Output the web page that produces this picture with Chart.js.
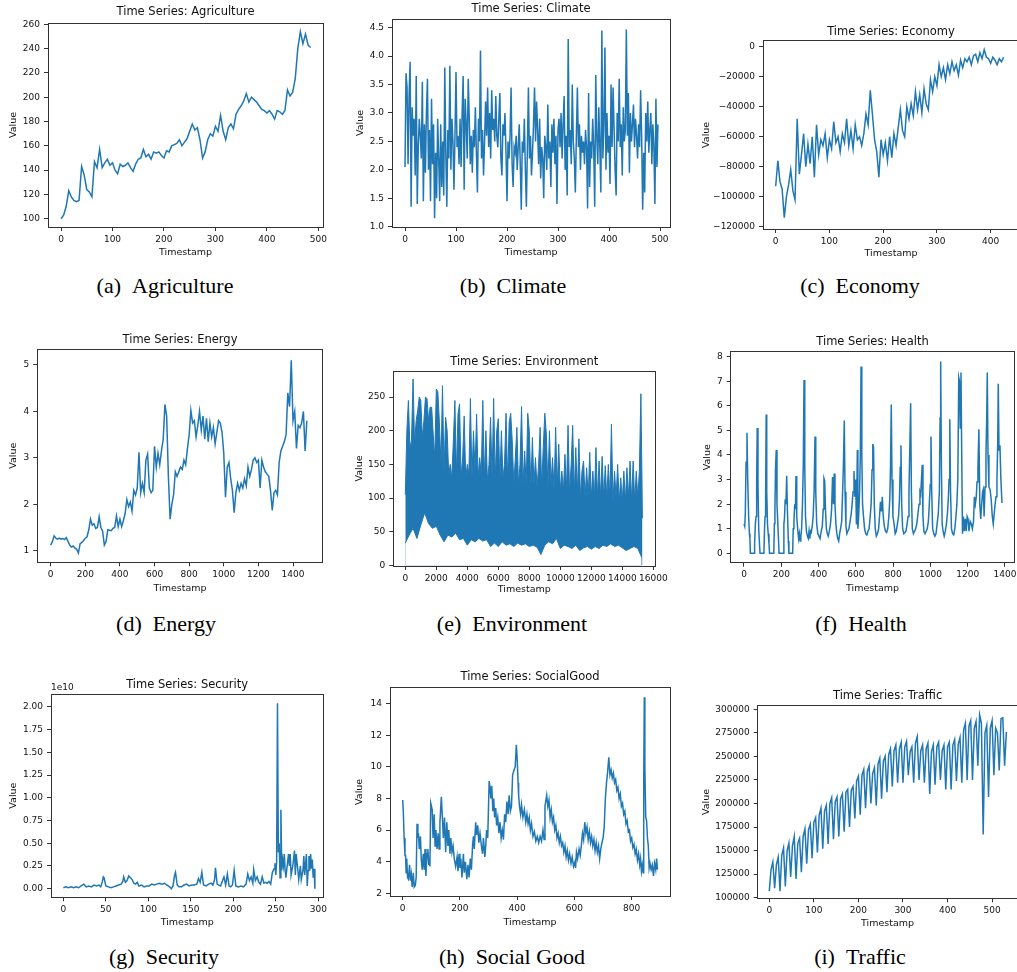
<!DOCTYPE html>
<html><head><meta charset="utf-8">
<script src="https://cdn.jsdelivr.net/npm/chart.js@4.4.1/dist/chart.umd.min.js"></script>
<style>
html,body{margin:0;padding:0;background:#fff;}
#page{position:relative;width:1017px;height:972px;overflow:hidden;background:#fff;}
#page canvas{position:absolute;}
.cap{position:absolute;width:300px;font-family:'Liberation Serif','Times New Roman',serif;font-size:22px;line-height:22px;text-align:center;color:#000;white-space:pre;}
.off{position:absolute;font-family:'DejaVu Sans',sans-serif;font-size:9px;line-height:11px;color:#111;}
</style></head><body><div id="page"></div>
<script>
// ---------------- DATA ----------------
const agricultureStep = 5;
const agriculture = [100,103,110,123,118,115,114,115,143,136,124,122,118,147,142,157,142,146,149,144,146,140,137,145,143,144,146,142,139,145,149,150,157,151,153,149,155,154,155,152,150,156,155,160,161,162,165,160,163,166,172,178,173,175,165,150,155,165,170,168,176,172,185,172,165,175,178,174,186,190,193,197,203,196,200,198,196,193,190,189,187,189,186,182,189,188,186,189,206,201,204,215,240,254,244,252,243,241];

const climateStep = 2;
const climate = [
2.05,3.7,3.45,2.1,3.3,3.9,1.35,3.1,2.6,2.9,
1.9,3.65,1.4,2.4,2.9,2.6,2.2,3.55,1.45,2.8,
1.95,3.0,3.6,2.0,2.7,1.45,3.25,2.1,2.8,1.15,
2.3,1.5,2.9,2.2,1.45,2.8,1.7,2.5,1.55,3.8,
2.3,1.35,2.7,2.2,3.83,2.0,2.9,2.5,1.65,2.6,
3.72,2.4,2.6,2.1,2.9,2.05,3.0,3.65,1.65,3.25,
2.8,2.2,3.6,2.9,2.1,2.6,1.95,2.7,2.4,3.1,
2.3,1.6,2.9,2.5,4.1,2.2,2.7,1.9,2.5,3.2,
2.6,3.45,2.4,3.0,2.2,3.4,2.7,2.9,2.5,3.3,
2.6,2.4,2.9,3.35,2.2,1.9,2.8,2.6,3.0,2.3,
1.45,2.5,2.2,2.6,3.45,2.1,1.7,2.4,2.3,2.6,
2.0,2.4,2.8,2.1,1.3,2.5,2.3,2.9,2.0,1.35,
2.4,3.45,2.2,2.6,1.9,2.3,2.8,3.45,2.5,3.2,
2.7,2.1,2.9,1.85,2.4,2.2,1.5,2.6,2.4,2.0,
3.15,2.2,2.5,1.7,2.8,2.3,2.9,2.1,2.6,1.4,
2.7,2.9,2.4,3.0,2.2,2.8,3.3,2.0,2.6,1.55,
4.3,2.4,2.7,2.1,3.5,2.5,2.2,1.6,2.6,3.45,
2.4,2.8,2.0,2.6,2.3,2.5,2.1,2.7,2.4,1.32,
3.35,1.7,2.5,2.2,2.9,2.4,1.35,3.67,2.6,2.1,
3.1,2.4,1.6,4.45,2.2,2.8,4.15,2.0,3.0,2.3,
2.6,1.75,3.5,2.4,3.45,2.7,2.0,1.55,3.0,2.5,
3.6,2.4,2.8,1.9,3.1,2.5,2.7,4.47,2.6,3.35,
1.95,3.0,2.5,2.8,3.15,2.4,2.9,2.6,2.2,2.8,
2.4,3.4,2.6,1.3,2.3,1.6,3.0,2.5,3.2,2.3,
2.7,3.0,2.1,2.8,2.4,1.4,3.25,2.05,2.8];

const economyStep = 4;
const economy = [-93000,-76000,-90000,-95000,-114000,-100000,-92000,-82000,-96000,-102000,-48000,-85000,-72000,-58000,-80000,-65000,-78000,-60000,-87000,-52000,-72000,-62000,-66000,-58000,-74000,-62000,-68000,-50000,-64000,-60000,-70000,-58000,-64000,-48000,-66000,-56000,-68000,-52000,-62000,-60000,-66000,-58000,-45000,-52000,-29000,-45000,-62000,-70000,-87000,-62000,-72000,-64000,-76000,-60000,-74000,-58000,-66000,-54000,-42000,-56000,-60000,-40000,-48000,-38000,-46000,-30000,-42000,-32000,-44000,-28000,-38000,-42000,-22000,-30000,-20000,-26000,-12000,-20000,-14000,-22000,-12000,-18000,-10000,-16000,-12000,-19000,-9000,-14000,-8000,-10000,-7000,-12000,-6000,-5000,-10000,-4000,-8000,-2000,-7000,-8000,-11000,-7000,-9000,-12000,-8000,-10000,-7000];

const energyStep = 10;
const energy = [1.12,1.2,1.32,1.27,1.25,1.27,1.25,1.26,1.24,1.28,1.2,1.12,1.08,1.1,1.06,1.03,0.95,1.15,1.18,1.22,1.27,1.3,1.45,1.68,1.55,1.58,1.48,1.5,1.73,1.5,1.42,1.12,1.2,1.45,1.44,1.43,1.48,1.5,1.75,1.52,1.68,1.52,1.65,1.8,2.1,1.95,2.05,1.85,2.3,2.2,2.35,3.12,2.25,2.45,2.25,2.95,3.08,2.35,2.25,2.3,3.25,2.8,3.1,2.85,3.15,3.4,4.15,3.9,2.6,1.68,2.0,2.2,2.7,2.6,2.7,2.8,2.75,2.95,2.85,3.2,3.5,4.02,3.75,3.8,3.45,3.7,4.0,3.6,3.9,3.4,3.85,3.35,3.75,3.45,3.65,3.3,3.55,3.8,3.75,3.55,3.1,2.15,2.8,2.9,2.55,2.3,1.82,2.25,2.45,2.3,2.45,2.35,2.55,2.4,2.8,2.6,2.75,2.95,3.0,2.9,2.95,2.35,2.95,2.8,2.7,2.65,2.6,2.3,1.87,2.25,2.3,2.2,2.9,3.15,3.25,3.35,3.5,4.4,4.1,5.1,3.8,4.0,3.2,3.7,3.65,3.75,4.0,3.15,3.8];

// Environment: dense series shown by its upper and lower envelopes
const environmentTopStep = 100;
const environmentTop = [105,200,245,175,185,277,180,215,230,250,245,190,215,250,248,215,235,235,195,160,262,258,212,150,267,140,220,200,135,150,130,185,245,135,225,240,130,160,222,130,150,135,248,130,200,140,225,130,160,135,245,130,200,125,150,220,130,248,125,200,218,125,200,130,150,226,125,212,226,185,120,160,205,120,150,236,120,170,120,226,200,115,190,120,160,115,150,205,115,175,226,195,115,200,120,160,110,205,115,180,110,140,110,165,110,208,105,150,208,105,175,105,188,100,140,155,100,145,100,168,100,140,100,175,100,155,100,162,100,148,100,150,100,210,95,140,100,150,95,130,95,140,95,145,100,155,95,155,95,140,100,140,255,70];
const environmentBottomStep = 250;
const environmentBottom = [33,45,55,40,60,78,62,55,58,45,35,45,42,48,38,40,30,38,35,40,36,38,28,33,28,35,30,32,28,33,30,32,28,30,27,16,30,35,32,40,25,30,28,25,30,22,26,28,24,28,25,30,28,32,28,30,26,22,25,28,25,12];

const health = [[0,1.2],[4,1.1],[7,1.6],[11,3.7],[16,4.9],[20,3.0],[25,1.5],[29,0.8],[32,0.6],[34,0],[54,0],[57,0.4],[61,1.2],[65,1.5],[68,3.0],[71,5.1],[75,2.8],[79,1.0],[83,0.4],[86,0],[107,0],[110,1.0],[113,1.5],[116,2.2],[119,5.65],[122,2.5],[126,1.2],[130,0.8],[134,0.4],[137,0],[160,0],[163,1.2],[166,1.8],[169,3.4],[173,4.2],[177,2.0],[181,1.3],[185,0.6],[188,0],[211,0],[214,1.2],[217,1.4],[221,2.2],[225,2.0],[229,3.15],[233,1.7],[238,0.5],[241,0],[261,0],[264,1.0],[268,1.3],[272,2.0],[276,1.8],[279,3.15],[283,1.5],[288,1.0],[293,0.6],[297,0.8],[301,0.5],[305,0.7],[309,1.0],[313,1.8],[318,3.5],[322,7.05],[326,3.5],[330,1.5],[335,0.9],[340,0.7],[345,0.6],[349,0.9],[353,0.6],[357,0.9],[361,0.85],[366,1.1],[371,1.5],[376,2.5],[381,4.75],[385,2.5],[390,1.2],[396,0.8],[402,0.7],[408,0.6],[414,0.9],[420,1.1],[425,1.8],[429,3.05],[433,2.95],[437,1.8],[442,1.0],[447,0.8],[452,0.7],[458,0.9],[464,1.2],[470,1.8],[475,3.1],[480,2.0],[484,3.25],[488,2.0],[493,1.2],[498,0.8],[503,0.6],[508,0.5],[513,0.8],[518,1.0],[524,1.3],[529,2.5],[533,3.5],[538,5.4],[542,2.5],[547,1.1],[552,0.8],[557,0.9],[563,1.0],[569,1.3],[575,1.6],[580,2.0],[585,2.5],[590,3.35],[594,2.3],[599,3.0],[603,1.2],[606,2.8],[608,4.2],[611,1.0],[615,1.5],[620,2.5],[624,4.0],[628,7.6],[632,4.0],[636,2.0],[641,1.5],[647,1.0],[653,0.8],[659,0.75],[665,0.9],[671,1.0],[677,1.5],[682,2.0],[687,3.4],[691,4.45],[695,4.3],[699,2.0],[704,1.0],[710,0.7],[716,0.8],[722,1.0],[727,1.5],[732,2.1],[737,1.7],[742,2.3],[747,1.5],[753,1.1],[759,0.9],[765,0.85],[771,1.0],[777,1.5],[782,2.2],[786,3.5],[790,6.05],[794,3.0],[799,1.5],[805,1.2],[811,0.8],[817,0.9],[823,1.2],[829,1.5],[834,2.2],[838,3.5],[842,4.4],[846,2.0],[851,1.0],[857,0.8],[863,0.85],[869,0.9],[875,1.2],[880,1.5],[885,2.5],[890,4.5],[894,6.1],[898,2.5],[903,1.0],[909,0.8],[915,0.9],[921,1.0],[927,1.2],[933,1.6],[939,2.0],[944,2.5],[948,2.4],[952,3.0],[956,3.6],[960,1.5],[965,0.9],[971,0.8],[977,0.9],[983,1.0],[989,1.3],[994,2.0],[999,2.8],[1003,4.75],[1007,2.5],[1012,1.0],[1018,0.8],[1024,0.7],[1030,0.8],[1036,1.2],[1042,1.6],[1048,2.5],[1052,5.5],[1055,7.8],[1059,3.5],[1063,1.2],[1068,0.9],[1074,0.7],[1080,0.9],[1086,1.2],[1091,1.6],[1096,2.2],[1100,3.0],[1104,5.45],[1108,2.5],[1113,1.0],[1119,0.8],[1125,0.75],[1131,1.0],[1137,1.5],[1142,2.0],[1147,3.0],[1152,7.15],[1156,7.0],[1160,5.1],[1164,7.35],[1168,4.0],[1172,0.8],[1177,1.5],[1182,0.9],[1187,1.4],[1192,0.9],[1197,1.5],[1202,1.4],[1207,0.9],[1213,1.3],[1219,1.2],[1225,1.0],[1231,1.3],[1236,2.3],[1241,2.0],[1246,2.3],[1250,2.9],[1255,3.5],[1260,5.05],[1265,2.0],[1270,1.4],[1275,2.0],[1280,2.5],[1284,2.6],[1288,1.5],[1293,2.7],[1298,4.0],[1302,5.5],[1305,7.35],[1309,4.0],[1314,2.7],[1320,2.6],[1326,2.2],[1332,1.5],[1337,1.2],[1342,1.6],[1347,2.0],[1352,2.3],[1357,3.0],[1361,4.5],[1364,6.9],[1368,4.2],[1373,4.4],[1378,3.0],[1384,2.05]];

// Security values in units of 1e10
const securityE10 = [[0,0.01],[3,0.02],[6,0.01],[9,0.02],[12,0.01],[15,0.02],[18,0.01],[21,0.03],[24,0.05],[27,0.02],[30,0.03],[33,0.02],[36,0.04],[39,0.03],[42,0.04],[44,0.02],[46,0.08],[47,0.13],[48,0.12],[50,0.03],[53,0.02],[56,0.01],[59,0.02],[62,0.03],[65,0.04],[68,0.05],[70,0.08],[71,0.13],[73,0.07],[75,0.09],[77,0.14],[79,0.12],[81,0.1],[83,0.06],[85,0.05],[87,0.07],[89,0.03],[92,0.04],[95,0.02],[98,0.03],[101,0.03],[104,0.05],[107,0.04],[110,0.05],[113,0.06],[116,0.05],[119,0.06],[122,0.04],[125,0.02],[127,0.0],[129,0.03],[131,0.15],[132,0.18],[134,0.04],[136,0.02],[139,0.02],[142,0.04],[145,0.05],[148,0.03],[151,0.04],[154,0.04],[157,0.05],[159,0.11],[161,0.07],[163,0.18],[165,0.04],[168,0.03],[171,0.05],[174,0.06],[176,0.04],[178,0.1],[179,0.23],[181,0.05],[183,0.04],[185,0.03],[187,0.08],[189,0.13],[191,0.04],[193,0.16],[195,0.03],[197,0.02],[199,0.04],[201,0.2],[203,0.03],[206,0.02],[209,0.03],[212,0.02],[215,0.05],[217,0.16],[219,0.09],[221,0.13],[223,0.06],[224,0.21],[226,0.09],[228,0.13],[230,0.07],[232,0.05],[234,0.13],[236,0.06],[238,0.07],[240,0.06],[242,0.08],[244,0.05],[246,0.18],[248,0.22],[249,0.28],[250,0.15],[251,0.3],[252,2.04],[253,0.4],[254,0.5],[255,0.12],[256,0.87],[257,0.2],[258,0.32],[259,0.25],[260,0.38],[261,0.2],[262,0.12],[263,0.22],[265,0.38],[266,0.25],[267,0.38],[268,0.15],[270,0.25],[272,0.42],[273,0.15],[274,0.38],[276,0.2],[277,0.1],[279,0.25],[280,0.1],[282,0.2],[283,0.36],[284,0.15],[286,0.38],[287,0.03],[288,0.2],[289,0.36],[290,0.2],[291,0.38],[292,0.22],[293,0.32],[294,0.12],[295,0.22],[296,0.0]];

const socialGood = [[0,7.9],[2,7.2],[5,5.5],[8,4.4],[10,4.4],[12,3.3],[14,4.2],[17,3.0],[20,2.9],[24,3.8],[27,2.8],[30,3.2],[33,2.4],[37,3.3],[40,2.4],[44,2.5],[47,3.0],[50,6.4],[53,5.5],[55,5.8],[58,4.8],[62,5.6],[65,4.1],[68,3.5],[72,4.5],[75,3.5],[78,4.8],[81,3.1],[85,4.5],[88,4.8],[91,3.8],[93,4.2],[95,3.7],[98,7.7],[103,7.3],[106,5.5],[110,7.0],[113,5.0],[116,6.0],[120,4.8],[124,5.8],[127,4.8],[130,6.5],[135,8.1],[138,7.0],[142,5.5],[146,6.8],[150,4.6],[154,6.5],[158,5.0],[161,6.0],[165,4.5],[168,5.5],[172,4.6],[176,5.0],[180,4.2],[185,3.7],[190,4.3],[193,3.4],[197,4.5],[200,3.6],[203,4.2],[207,3.0],[212,4.5],[215,3.3],[219,4.0],[224,2.9],[228,3.8],[232,3.0],[236,4.2],[240,3.5],[244,5.0],[247,5.6],[250,4.8],[255,6.5],[258,5.7],[262,6.3],[266,5.2],[270,5.8],[275,5.0],[279,4.5],[282,5.5],[287,4.3],[290,5.0],[293,6.0],[297,5.5],[302,9.1],[305,8.7],[308,8.0],[311,8.8],[315,7.2],[318,8.0],[321,6.8],[325,7.4],[328,6.3],[332,6.8],[336,5.8],[340,6.5],[344,5.5],[348,6.0],[352,5.4],[356,7.0],[360,6.5],[364,7.8],[368,7.0],[372,8.2],[376,7.2],[380,7.5],[384,9.5],[389,9.8],[393,10.0],[397,11.4],[400,10.5],[403,9.0],[405,8.2],[408,7.5],[412,7.0],[415,7.6],[420,6.8],[425,7.3],[430,6.5],[434,7.0],[438,6.4],[442,6.8],[446,6.0],[450,6.4],[455,5.6],[460,5.9],[465,5.3],[470,5.6],[475,5.2],[480,5.6],[485,5.3],[490,6.0],[494,5.4],[497,7.5],[503,8.2],[507,7.5],[511,7.9],[515,6.8],[519,7.3],[523,6.5],[527,6.8],[531,6.0],[535,6.3],[539,5.5],[543,5.8],[547,5.2],[551,5.6],[555,5.0],[559,5.2],[563,4.6],[567,5.0],[571,4.3],[575,4.7],[579,4.1],[583,4.5],[588,3.9],[592,4.3],[597,3.7],[602,4.0],[604,3.6],[607,4.6],[611,4.2],[616,4.8],[620,4.4],[624,5.0],[628,5.8],[632,5.4],[636,6.5],[640,5.8],[644,6.2],[648,5.4],[652,5.9],[656,5.2],[660,5.6],[664,5.0],[668,5.4],[672,4.7],[676,5.2],[680,4.6],[684,5.0],[688,4.2],[692,4.8],[696,5.2],[700,5.5],[704,6.2],[708,8.0],[712,9.0],[716,9.7],[720,10.6],[724,9.5],[728,9.8],[732,9.3],[736,9.6],[740,9.0],[744,9.2],[748,8.5],[752,8.7],[756,8.0],[760,8.3],[764,7.5],[768,7.7],[772,7.0],[776,7.2],[780,6.4],[784,6.6],[788,5.9],[792,6.0],[796,5.3],[800,5.5],[804,4.9],[808,5.1],[812,4.5],[816,4.8],[820,4.1],[824,4.5],[828,3.8],[831,4.2],[834,3.4],[837,3.8],[840,3.3],[842,9.0],[844,14.4],[846,10.0],[849,6.8],[852,6.6],[855,5.5],[858,5.0],[861,3.6],[864,3.9],[868,3.5],[872,3.8],[876,3.1],[880,3.9],[884,3.5],[887,4.2],[890,3.5]];

const trafficStep = 4;
const traffic = [107e3,130e3,138e3, 110e3,135e3,143e3, 107e3,145e3,153e3, 112e3,150e3,158e3, 122e3,155e3,165e3, 120e3,158e3,163e3, 127e3,165e3,173e3, 136e3,172e3,178e3, 142e3,180e3,185e3, 148e3,188e3,195e3, 152e3,192e3,198e3, 157e3,200e3,206e3, 162e3,202e3,207e3, 165e3,205e3,210e3, 170e3,212e3,215e3, 175e3,214e3,218e3, 184e3,224e3,229e3, 188e3,230e3,236e3, 195e3,234e3,240e3, 200e3,232e3,238e3, 198e3,242e3,248e3, 205e3,245e3,250e3, 212e3,252e3,258e3, 218e3,256e3,262e3, 222e3,258e3,265e3, 222e3,260e3,266e3, 230e3,255e3,260e3, 222e3,264e3,271e3, 225e3,256e3,262e3, 222e3,258e3,264e3, 210e3,255e3,262e3, 220e3,260e3,265e3, 225e3,256e3,262e3, 215e3,260e3,265e3, 215e3,262e3,268e3, 224e3,263e3,270e3, 222e3,278e3,285e3, 225e3,282e3,288e3, 225e3,280e3,287e3, 240e3,294e3,285e3, 167e3,275e3,283e3, 207e3,280e3,288e3, 230e3,280e3,275e3, 235e3,290e3,291e3, 240e3,276e3];

// tick labels
const ticksAgriX = [0,100,200,300,400,500], ticksAgriY = [100,120,140,160,180,200,220,240,260];
const ticksClimX = [0,100,200,300,400,500], ticksClimY = [1.0,1.5,2.0,2.5,3.0,3.5,4.0,4.5];
const ticksEconX = [0,100,200,300,400], ticksEconY = [-120000,-100000,-80000,-60000,-40000,-20000,0];
const ticksEnerX = [0,200,400,600,800,1000,1200,1400], ticksEnerY = [1,2,3,4,5];
const ticksEnvX = [0,2000,4000,6000,8000,10000,12000,14000,16000], ticksEnvY = [0,50,100,150,200,250];
const ticksHealX = [0,200,400,600,800,1000,1200,1400], ticksHealY = [0,1,2,3,4,5,6,7,8];
const ticksSecX = [0,50,100,150,200,250,300], ticksSecY = [0,0.25,0.5,0.75,1.0,1.25,1.5,1.75,2.0];
const ticksSocX = [0,200,400,600,800], ticksSocY = [2,4,6,8,10,12,14];
const ticksTrafX = [0,100,200,300,400,500], ticksTrafY = [100000,125000,150000,175000,200000,225000,250000,275000,300000];

// ---------------- RENDER ----------------
const BLUE = '#1f77b4', TXT = '#111', SPINE = '#333';
const FONT = "'DejaVu Sans', sans-serif";
const TICK_PX = 9, LABEL_PX = 9.5, TITLE_PX = 11.5, LH = 1.2;
const page = document.getElementById('page');
Chart.defaults.font.family = FONT;
Chart.defaults.color = TXT;

const fromStep = (vals, step) => vals.map((v, i) => ({x: i * step, y: v}));
const fromPairs = (pairs) => pairs.map(p => ({x: p[0], y: p[1]}));
const plain = v => String(v);
const minusFmt = v => v < 0 ? '\u2212' + Math.abs(v) : String(v);

function panel(o) {
  const axLH = LABEL_PX * LH, tLH = TITLE_PX * LH;
  const [fl, ft, fr, fb] = o.frame;
  const left = Math.floor(o.yLabelX - axLH / 2);
  const top = Math.floor(o.titleY - tLH / 2);
  const bottom = Math.ceil(o.xLabelY + axLH / 2);
  const right = Math.ceil(fr + 24);
  const W = right - left, H = bottom - top;
  const padL = fl - left, padT = ft - top, padB = bottom - fb, padR = right - fr;
  const cv = document.createElement('canvas');
  cv.width = W; cv.height = H;
  cv.style.left = left + 'px'; cv.style.top = top + 'px';
  cv.style.width = W + 'px'; cv.style.height = H + 'px';
  page.appendChild(cv);
  const border = {display: true, color: SPINE, width: 1};
  const grid = {display: true, drawOnChartArea: false, drawTicks: true, tickLength: 4, tickWidth: 1, tickColor: SPINE};
  const noGrid = {display: true, drawOnChartArea: false, drawTicks: false};
  const tickFont = {family: FONT, size: TICK_PX};
  new Chart(cv, {
    type: 'line',
    data: {datasets: o.datasets.map(d => Object.assign({
      borderColor: BLUE, borderWidth: 1.5, pointRadius: 0, tension: 0, fill: false,
      xAxisID: 'x', yAxisID: 'y'
    }, d))},
    options: {
      responsive: false, animation: false, events: [],
      layout: {padding: 0},
      plugins: {legend: {display: false}, title: {display: false}, tooltip: {enabled: false}},
      scales: {
        x: {type: 'linear', position: 'bottom', min: o.xMin, max: o.xMax,
          afterBuildTicks: s => { s.ticks = o.xTicks.map(v => ({value: v})); },
          afterFit: s => { s.height = padB; },
          border, grid,
          ticks: {autoSkip: false, maxRotation: 0, minRotation: 0, padding: 3, color: TXT, font: tickFont, callback: v => o.xFmt(v)},
          title: {display: true, text: 'Timestamp', color: TXT, font: {family: FONT, size: LABEL_PX},
                  padding: {top: 0, bottom: bottom - o.xLabelY - axLH / 2}}
        },
        y: {type: 'linear', position: 'left', min: o.yMin, max: o.yMax,
          afterBuildTicks: s => { s.ticks = o.yTicks.map(v => ({value: v})); },
          afterFit: s => { s.width = padL; },
          border, grid,
          ticks: {autoSkip: false, padding: 4, color: TXT, font: tickFont, callback: v => o.yFmt(v)},
          title: {display: true, text: 'Value', color: TXT, font: {family: FONT, size: LABEL_PX},
                  padding: {top: o.yLabelX - left - axLH / 2, bottom: 0}}
        },
        x2: {type: 'linear', position: 'top', min: o.xMin, max: o.xMax,
          afterFit: s => { s.height = padT; },
          border, grid: noGrid, ticks: {display: false},
          title: {display: true, text: o.title, color: TXT, font: {family: FONT, size: TITLE_PX},
                  padding: {top: o.titleY - top - tLH / 2, bottom: 0}}
        },
        y2: {type: 'linear', position: 'right', min: o.yMin, max: o.yMax,
          afterFit: s => { s.width = padR; },
          border, grid: noGrid, ticks: {display: false}
        }
      }
    }
  });
}

function caption(text, cx, cy) {
  const d = document.createElement('div');
  d.className = 'cap';
  d.textContent = text;
  d.style.left = (cx - 150) + 'px';
  d.style.top = (cy - 11) + 'px';
  page.appendChild(d);
}

panel({title: 'Time Series: Agriculture', frame: [48, 23, 323, 227], yLabelX: 13.3, xLabelY: 252.3, titleY: 12.3,
  xMin: -25.3, xMax: 509, yMin: 93.2, yMax: 261.1, xTicks: ticksAgriX, yTicks: ticksAgriY, xFmt: plain, yFmt: plain,
  datasets: [{data: fromStep(agriculture, agricultureStep)}]});
panel({title: 'Time Series: Climate', frame: [392, 19, 670, 227], yLabelX: 360.7, xLabelY: 252.3, titleY: 9,
  xMin: -25.5, xMax: 519.6, yMin: 0.995, yMax: 4.653, xTicks: ticksClimX, yTicks: ticksClimY, xFmt: plain, yFmt: v => v.toFixed(1),
  datasets: [{data: fromStep(climate, climateStep)}]});
panel({title: 'Time Series: Economy', frame: [763, 40.7, 1019, 229], yLabelX: 706.7, xLabelY: 253.3, titleY: 31.7,
  xMin: -23.6, xMax: 452.7, yMin: -121533, yMax: 4000, xTicks: ticksEconX, yTicks: ticksEconY, xFmt: plain, yFmt: minusFmt,
  datasets: [{data: fromStep(economy, economyStep)}]});
panel({title: 'Time Series: Energy', frame: [37.3, 349.3, 322.7, 562.3], yLabelX: 13.3, xLabelY: 588.3, titleY: 340,
  xMin: -77.4, xMax: 1571.6, yMin: 0.75, yMax: 5.338, xTicks: ticksEnerX, yTicks: ticksEnerY, xFmt: plain, yFmt: plain,
  datasets: [{data: fromStep(energy, energyStep)}]});
panel({title: 'Time Series: Environment', frame: [393.3, 371, 655.3, 566], yLabelX: 360, xLabelY: 590, titleY: 361.7,
  xMin: -774, xMax: 16129, yMin: -1, yMax: 288.8, xTicks: ticksEnvX, yTicks: ticksEnvY, xFmt: plain, yFmt: plain,
  datasets: [
    {data: fromStep(environmentBottom, environmentBottomStep), borderWidth: 1, backgroundColor: '#ffffff', fill: 'origin'},
    {data: fromStep(environmentTop, environmentTopStep), borderWidth: 1, backgroundColor: BLUE, fill: 'origin'}
  ]});
panel({title: 'Time Series: Health', frame: [730.7, 351.7, 1014.3, 562.7], yLabelX: 707.7, xLabelY: 588.7, titleY: 341.7,
  xMin: -71.3, xMax: 1450, yMin: -0.38, yMax: 8.2, xTicks: ticksHealX, yTicks: ticksHealY, xFmt: plain, yFmt: plain,
  datasets: [{data: fromPairs(health)}]});
panel({title: 'Time Series: Security', frame: [51, 694, 323.3, 897.3], yLabelX: 13.3, xLabelY: 922.7, titleY: 685,
  xMin: -14.5, xMax: 305.9, yMin: -0.095, yMax: 2.143, xTicks: ticksSecX, yTicks: ticksSecY, xFmt: plain, yFmt: v => v.toFixed(2),
  datasets: [{data: fromPairs(securityE10)}]});
panel({title: 'Time Series: SocialGood', frame: [390, 687.7, 670, 896], yLabelX: 360, xLabelY: 922.7, titleY: 676.7,
  xMin: -44.4, xMax: 933.8, yMin: 1.83, yMax: 15.01, xTicks: ticksSocX, yTicks: ticksSocY, xFmt: plain, yFmt: plain,
  datasets: [{data: fromPairs(socialGood)}]});
panel({title: 'Time Series: Traffic', frame: [757.7, 705.7, 1017.5, 898.3], yLabelX: 706.7, xLabelY: 923.3, titleY: 696,
  xMin: -26, xMax: 557, yMin: 99360, yMax: 303800, xTicks: ticksTrafX, yTicks: ticksTrafY, xFmt: plain, yFmt: plain,
  datasets: [{data: fromStep(traffic, trafficStep)}]});

const off = document.createElement('div');
off.className = 'off'; off.textContent = '1e10';
off.style.left = '51px'; off.style.top = '682px';
page.appendChild(off);

caption('(a)\u2002Agriculture', 165, 286);
caption('(b)\u2002Climate', 513, 286);
caption('(c)\u2002Economy', 860, 286);
caption('(d)\u2002Energy', 166, 624);
caption('(e)\u2002Environment', 512, 624);
caption('(f)\u2002Health', 861, 624);
caption('(g)\u2002Security', 164, 957);
caption('(h)\u2002Social Good', 512, 957);
caption('(i)\u2002Traffic', 860, 957);
</script>
</body></html>
